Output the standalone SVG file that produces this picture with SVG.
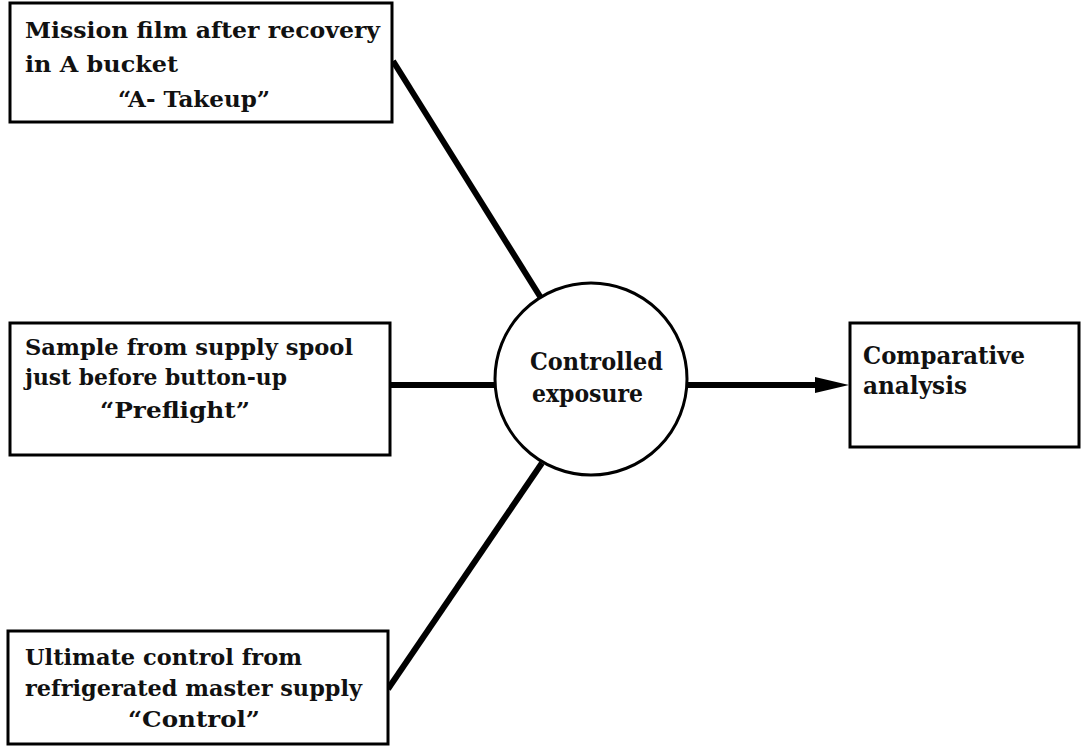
<svg xmlns="http://www.w3.org/2000/svg" width="1082" height="747" viewBox="0 0 1082 747">
  <style>
    .box { fill: #fff; stroke: #000; stroke-width: 3; }
    .circ { fill: #fff; stroke: #000; stroke-width: 3; }
    .conn { stroke: #000; stroke-width: 6; fill: none; stroke-linecap: butt; }
    .t { font-family: "DejaVu Serif", "Liberation Serif", serif; font-weight: bold; font-size: 23px; fill: #111; }
    .tl { font-family: "DejaVu Serif", "Liberation Serif", serif; font-weight: bold; font-size: 25px; fill: #111; }
  </style>
  <defs>
    <marker id="arrow" viewBox="0 0 34 18" refX="1" refY="9" markerWidth="34" markerHeight="18" markerUnits="userSpaceOnUse" orient="auto">
      <path d="M0,1 L34,9 L0,17 Z" fill="#000"/>
    </marker>
  </defs>
  <rect width="1082" height="747" fill="#fff"/>

  <g id="connectors">
    <line class="conn" x1="393" y1="61" x2="541" y2="298"/>
    <line class="conn" x1="390" y1="385" x2="496" y2="385"/>
    <line class="conn" x1="388" y1="689" x2="542" y2="463"/>
    <line class="conn" x1="687" y1="385" x2="816" y2="385" marker-end="url(#arrow)"/>
  </g>

  <g id="node-takeup">
    <rect class="box" x="10" y="3" width="382" height="119"/>
    <text class="t" x="25" y="38" textLength="355" lengthAdjust="spacingAndGlyphs">Mission film after recovery</text>
    <text class="t" x="25" y="72" textLength="153" lengthAdjust="spacingAndGlyphs">in A bucket</text>
    <text class="t" x="118" y="107" textLength="152" lengthAdjust="spacingAndGlyphs">“A- Takeup”</text>
  </g>

  <g id="node-preflight">
    <rect class="box" x="10" y="323" width="380" height="132"/>
    <text class="t" x="25" y="355" textLength="328" lengthAdjust="spacingAndGlyphs">Sample from supply spool</text>
    <text class="t" x="25" y="385" textLength="262" lengthAdjust="spacingAndGlyphs">just before button-up</text>
    <text class="t" x="100" y="418" textLength="150" lengthAdjust="spacingAndGlyphs">“Preflight”</text>
  </g>

  <g id="node-control">
    <rect class="box" x="8" y="631" width="380" height="113"/>
    <text class="t" x="25" y="665" textLength="277" lengthAdjust="spacingAndGlyphs">Ultimate control from</text>
    <text class="t" x="25" y="696" textLength="337" lengthAdjust="spacingAndGlyphs">refrigerated master supply</text>
    <text class="t" x="128" y="727" textLength="132" lengthAdjust="spacingAndGlyphs">“Control”</text>
  </g>

  <g id="node-exposure">
    <circle class="circ" cx="591" cy="379" r="96"/>
    <text class="tl" x="530" y="370" textLength="133" lengthAdjust="spacingAndGlyphs">Controlled</text>
    <text class="tl" x="532" y="402" textLength="111" lengthAdjust="spacingAndGlyphs">exposure</text>
  </g>

  <g id="node-analysis">
    <rect class="box" x="850" y="323" width="229" height="124"/>
    <text class="tl" x="863" y="364" textLength="162" lengthAdjust="spacingAndGlyphs">Comparative</text>
    <text class="tl" x="863" y="394" textLength="104" lengthAdjust="spacingAndGlyphs">analysis</text>
  </g>
</svg>
